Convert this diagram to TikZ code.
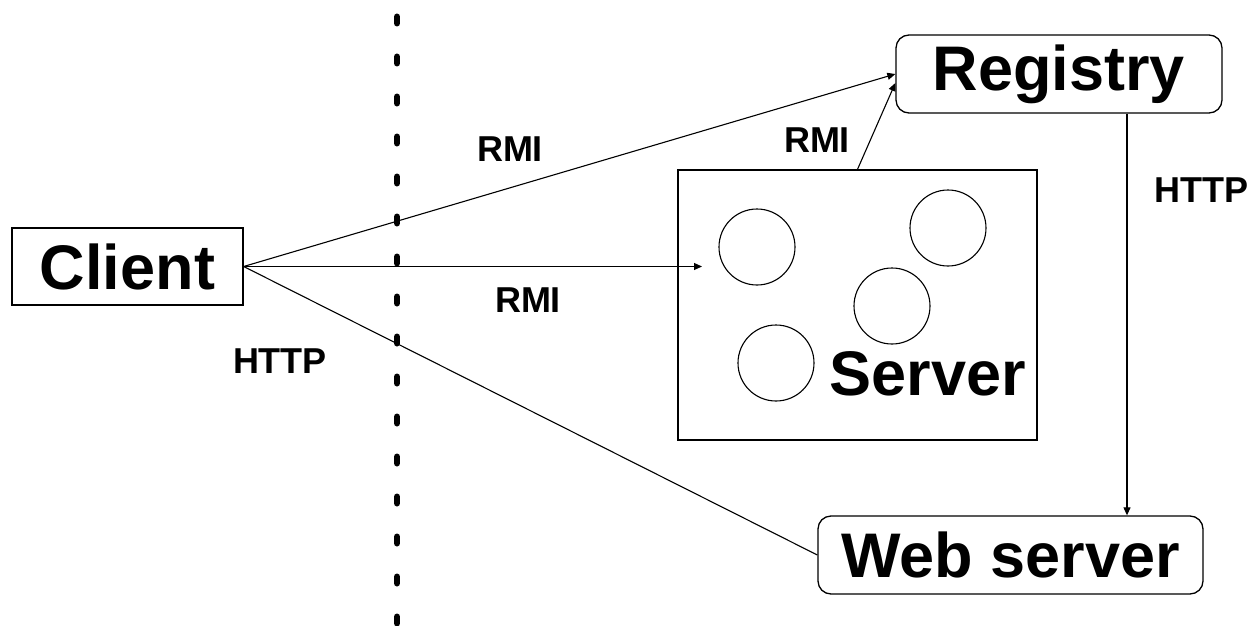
\documentclass[tikz,border=0pt]{standalone}
\usepackage{fontspec}
\setmainfont{Liberation Sans}
\usetikzlibrary{arrows.meta}

\begin{document}
\begin{tikzpicture}[x=1pt,y=-1pt,
  bigtext/.style={font=\fontsize{63}{63}\selectfont\bfseries},
  smalltext/.style={font=\fontsize{36}{36}\selectfont\bfseries},
  plainbox/.style={draw,line width=1.3pt,inner sep=0pt,bigtext},
  roundbox/.style={plainbox,rounded corners=13pt},
  obj/.style={circle,draw,line width=1.1pt,minimum size=76pt,inner sep=0pt},
  link/.style={line width=1.1pt},
  tip/.style={link,-{Triangle[length=8pt,width=7pt]}}
]
\useasboundingbox (0,0) rectangle (1253,626);
\fill[white] (0,0) rectangle (1253,626);

% network boundary
\draw[line width=6.5pt,line cap=round,dash pattern=on 6.5pt off 33.5pt] (397,16.75) -- (397,660);

% nodes
\node[plainbox,minimum width=231pt,minimum height=77pt] (client) at (127.5,266.5) {Client};
\node[roundbox,minimum width=326pt,minimum height=78pt] (registry) at (1059,74) {Registry};
\node[roundbox,minimum width=385pt,minimum height=78pt] (web) at (1010.5,555) {Web server};
\node[draw,line width=1.3pt,minimum width=359pt,minimum height=270pt,inner sep=0pt] (server) at (857.5,305) {};

% remote objects inside the server
\node[obj] (o1) at (757,247) {};
\node[obj] (o2) at (948,228) {};
\node[obj] (o3) at (892,306) {};
\node[obj] (o4) at (776,363) {};
\node[bigtext,anchor=base] (srvlabel) at (928,395) {Server};

\coordinate (srvin) at (702,266.5);

% connectors
\draw[tip] (client.east) -- (registry.west);
\draw[tip] (server.north) -- ([yshift=-9pt]registry.west);
\draw[tip] (client.east) -- (srvin);
\draw[link] (client.east) -- (web.west);
\draw[tip] ([xshift=68pt]registry.south) -- ([xshift=68pt]registry.south |- web.north);

% labels
\node[smalltext] (l1) at (510,149) {RMI};
\node[smalltext] (l2) at (528,300) {RMI};
\node[smalltext] (l3) at (817,140) {RMI};
\node[smalltext] (l4) at (1201,190) {HTTP};
\node[smalltext] (l5) at (280,361) {HTTP};
\end{tikzpicture}
\end{document}
